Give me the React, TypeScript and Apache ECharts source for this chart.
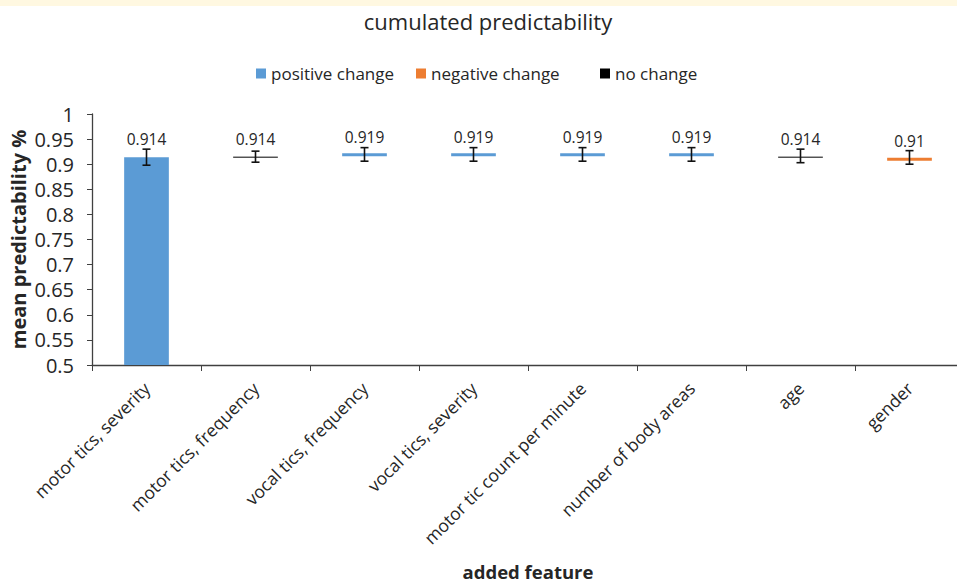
import React, { useEffect, useRef } from "react";
import * as echarts from "echarts";

const categories = [
  "motor tics, severity",
  "motor tics, frequency",
  "vocal tics, frequency",
  "vocal tics, severity",
  "motor tic count per minute",
  "number of body areas",
  "age",
  "gender",
];
const values = [0.914, 0.914, 0.919, 0.919, 0.919, 0.919, 0.914, 0.91];
const changeTypes = ["positive", "none", "positive", "positive", "positive", "positive", "none", "negative"];
const errLow = [0.898, 0.904, 0.906, 0.906, 0.906, 0.906, 0.903, 0.9];
const errHigh = [0.93, 0.926, 0.933, 0.933, 0.933, 0.933, 0.93, 0.927];
const legendNames = ["positive change", "negative change", "no change"];
const legendKinds = ["positive", "negative", "none"];
const yMin = 0.5;
const yMax = 1;
const yStep = 0.05;

const COLORS: Record<string, string> = {
  positive: "#5B9BD5",
  negative: "#ED7D31",
  none: "#000000",
};
const FONT = "'Open Sans', 'Noto Sans', sans-serif";
const TEXT = "#262626";
const LEGEND_LEFTS = [251, 411, 595];

export default function App() {
  const ref = useRef<HTMLDivElement>(null);

  useEffect(() => {
    document.body.style.margin = "0";
    if (!ref.current) return;
    const chart = echarts.init(ref.current, undefined, { renderer: "svg" });

    const data = categories.map((c, i) => [i, values[i], errLow[i], errHigh[i], changeTypes[i]]);

    const option: any = {
      animation: false,
      backgroundColor: "#ffffff",
      textStyle: { fontFamily: FONT },
      graphic: [
        { type: "rect", x: 0, y: 0, shape: { width: 957, height: 6 }, style: { fill: "#FFF8E1" } },
        {
          type: "text",
          x: 488,
          y: 21,
          style: {
            text: "cumulated predictability",
            font: `22px ${FONT}`,
            fill: TEXT,
            textAlign: "center",
            textVerticalAlign: "middle",
          },
        },
      ],
      legend: legendNames.map((n, i) => ({
        data: [{ name: n, icon: "rect", itemStyle: { color: COLORS[legendKinds[i]] } }],
        left: LEGEND_LEFTS[i],
        top: 60,
        itemWidth: 10,
        itemHeight: 10,
        textStyle: { fontSize: 17, color: TEXT, fontFamily: FONT },
        selectedMode: false,
      })),
      grid: {
        left: 92,
        top: 114,
        width: 872,
        height: 251,
        containLabel: false,
        outerBoundsMode: "none",
      },
      xAxis: {
        type: "category",
        data: categories,
        boundaryGap: true,
        name: "added feature",
        nameLocation: "middle",
        nameGap: 197,
        nameMoveOverlap: false,
        nameTextStyle: { fontSize: 18.5, fontWeight: "bold", color: TEXT, fontFamily: FONT },
        axisLine: { lineStyle: { color: "#404040", width: 1.3 } },
        axisTick: { show: true, length: 6, alignWithLabel: false, interval: 0, lineStyle: { color: "#404040" } },
        axisLabel: {
          interval: 0,
          rotate: 45,
          margin: 20,
          fontSize: 17.5,
          color: TEXT,
          fontFamily: FONT,
        },
        splitLine: { show: false },
      },
      yAxis: {
        type: "value",
        min: yMin,
        max: yMax,
        interval: yStep,
        name: "mean predictability %",
        nameLocation: "middle",
        nameRotate: 90,
        nameGap: 64,
        nameMoveOverlap: false,
        nameTextStyle: { fontSize: 20, fontWeight: "bold", color: TEXT, fontFamily: FONT },
        axisLine: { show: true, lineStyle: { color: "#404040", width: 1.3 } },
        axisTick: { show: true, length: 5, lineStyle: { color: "#404040" } },
        axisLabel: {
          margin: 18,
          fontSize: 20,
          color: TEXT,
          fontFamily: FONT,
          formatter: (v: number) => String(parseFloat(v.toFixed(2))),
        },
        splitLine: { show: false },
      },
      series: [
        ...legendNames.map((n, i) => ({
          name: n,
          type: "bar",
          data: [],
          itemStyle: { color: COLORS[legendKinds[i]] },
        })),
        {
          type: "custom",
          name: "cumulated",
          data,
          encode: { x: 0, y: 1 },
          clip: false,
          renderItem: (params: any, api: any) => {
            const idx = api.value(0);
            const val = api.value(1);
            const lo = api.value(2);
            const hi = api.value(3);
            const kind = changeTypes[idx];
            const [cx, cy] = api.coord([idx, val]);
            const band = api.size([1, 0])[0];
            const bw = band * 0.41;
            const children: any[] = [];
            if (idx === 0) {
              const [, by] = api.coord([idx, yMin]);
              children.push({
                type: "rect",
                shape: { x: cx - bw / 2, y: cy, width: bw, height: by - cy },
                style: { fill: COLORS[kind] },
              });
            } else if (kind === "none") {
              children.push({
                type: "line",
                shape: { x1: cx - bw / 2, y1: cy, x2: cx + bw / 2, y2: cy },
                style: { stroke: "#000", lineWidth: 1 },
              });
            } else {
              children.push({
                type: "rect",
                shape: { x: cx - bw / 2, y: cy - 1.5, width: bw, height: 3 },
                style: { fill: COLORS[kind] },
              });
            }
            const [, yl] = api.coord([idx, lo]);
            const [, yh] = api.coord([idx, hi]);
            const cap = 4;
            const es = { stroke: "#111", lineWidth: 1.6 };
            children.push({ type: "line", shape: { x1: cx, y1: yl, x2: cx, y2: yh }, style: es });
            children.push({ type: "line", shape: { x1: cx - cap, y1: yl, x2: cx + cap, y2: yl }, style: es });
            children.push({ type: "line", shape: { x1: cx - cap, y1: yh, x2: cx + cap, y2: yh }, style: es });
            children.push({
              type: "text",
              style: {
                text: String(val),
                x: cx,
                y: cy - 18,
                textAlign: "center",
                textVerticalAlign: "middle",
                font: `15.5px ${FONT}`,
                fill: TEXT,
              },
            });
            return { type: "group", children };
          },
        },
      ],
    };

    chart.setOption(option);
    return () => chart.dispose();
  }, []);

  return <div ref={ref} style={{ width: 957, height: 583 }} />;
}
